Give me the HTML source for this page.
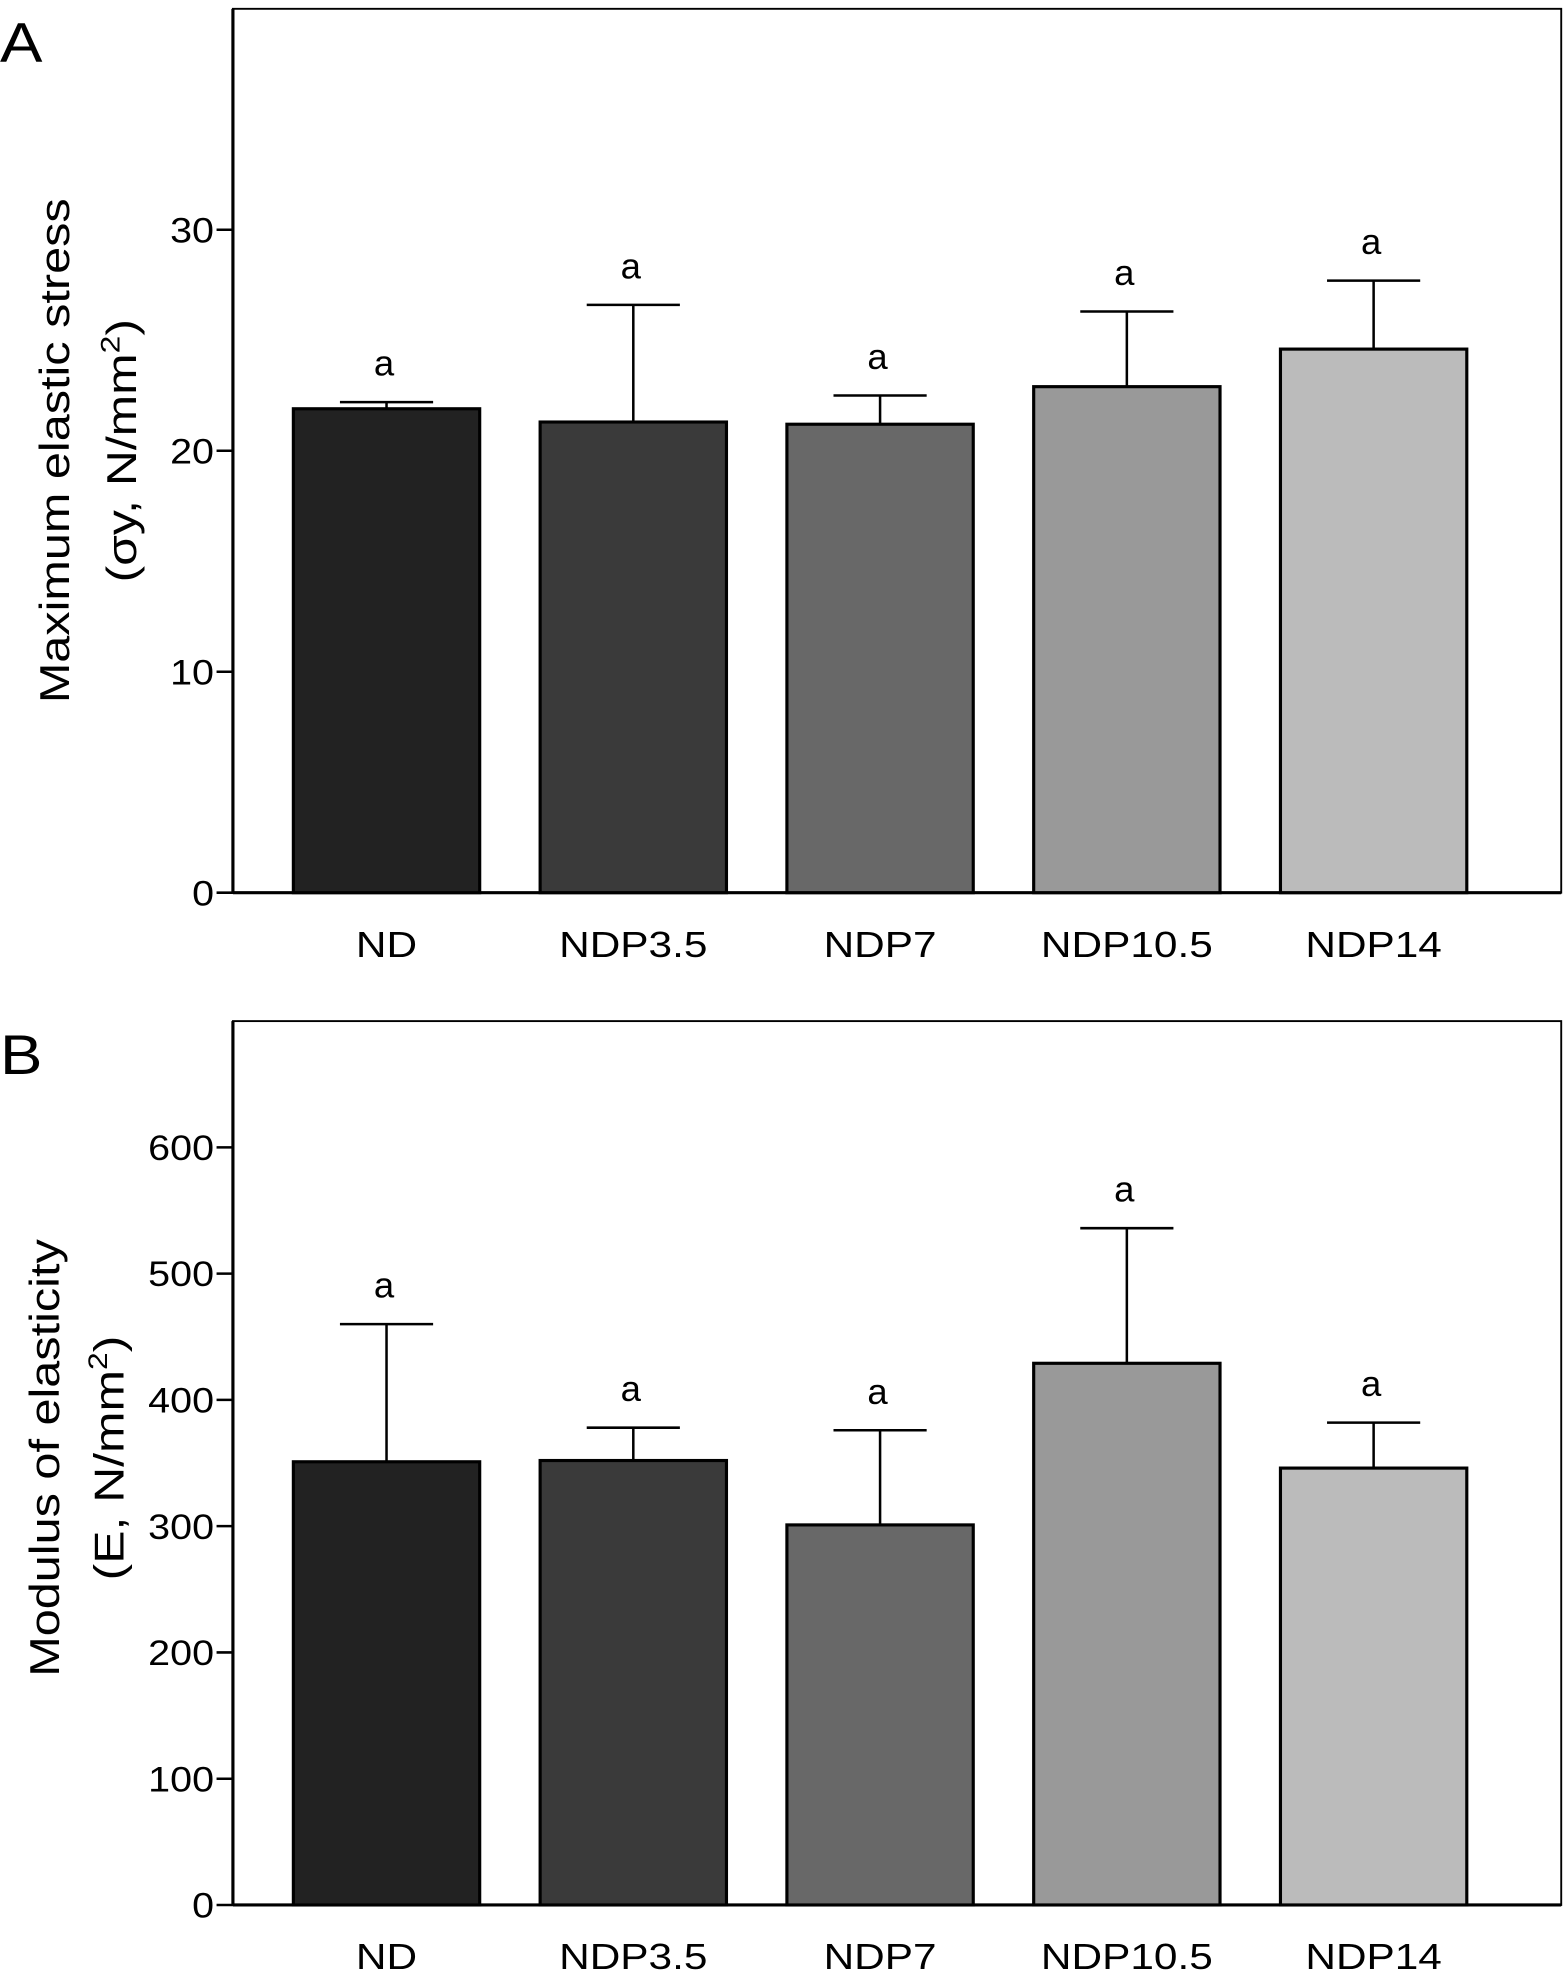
<!DOCTYPE html>
<html><head><meta charset="utf-8"><style>
html,body{margin:0;padding:0;background:#fff;}
svg{display:block;font-family:"Liberation Sans",Arial,sans-serif;}
</style></head><body>
<svg id="fig" width="1565" height="1978" viewBox="0 0 1243 1571" preserveAspectRatio="none" xmlns="http://www.w3.org/2000/svg"></svg>
<script>
const categories = ["ND","NDP3.5","NDP7","NDP10.5","NDP14"];
const stressValues = [21.9, 21.3, 21.2, 22.9, 24.6];
const stressErrors = [0.3, 5.3, 1.3, 3.4, 3.1];
const stressTicks = [0,10,20,30];
const modulusValues = [351, 352, 301, 429, 346];
const modulusErrors = [109, 26, 75, 107, 36];
const modulusTicks = [0,100,200,300,400,500,600];
const sigLetters = ["a","a","a","a","a"];
const fills = ["#222222","#3a3a3a","#686868","#999999","#bbbbbb"];

const svg = document.getElementById('fig');
const NS = "http://www.w3.org/2000/svg";
function mk(tag, attrs, parent){
  const e = document.createElementNS(NS, tag);
  for (const k in attrs) e.setAttribute(k, attrs[k]);
  (parent||svg).appendChild(e);
  return e;
}
function stretch(el, f){
  const w = el.getComputedTextLength();
  if (w > 0){
    el.setAttribute('textLength', (w*f).toFixed(1));
    el.setAttribute('lengthAdjust', 'spacingAndGlyphs');
  }
}

function panel(cfg){
  const g = mk('g', {});
  
  
  const L=185, R=1240, T=cfg.top, B=cfg.top+702;
  const y = v => B - (v/cfg.max)*(B-T);
  const xc = i => 307 + i*196;
  const bw = 148;
  const fr = mk('rect', {x:L,y:T,width:R-L,height:B-T,fill:'none',stroke:'#000','stroke-width':1.5}, g);
  
  
  const ya = mk('line', {x1:L,y1:T,x2:L,y2:B,stroke:'#000','stroke-width':2.5}, g);
  
  
  const xa = mk('line', {x1:L,y1:B,x2:R,y2:B,stroke:'#000','stroke-width':2.5}, g);
  
  
  cfg.ticks.forEach(t=>{
    const tl = mk('line', {x1:L-13,y1:y(t),x2:L,y2:y(t),stroke:'#000','stroke-width':2}, g);
    
    
    const tx = mk('text', {x:L-15,y:y(t)+10,'font-size':28,'text-anchor':'end'}, g);
    tx.textContent = t;
    
    
    stretch(tx, 1.12);
  });
  categories.forEach((c,i)=>{
    const v = cfg.values[i], e = cfg.errors[i];
    const el = mk('line', {x1:xc(i),y1:y(v),x2:xc(i),y2:y(v+e),stroke:'#000','stroke-width':2}, g);
    
    
    const cap = mk('line', {x1:xc(i)-37,y1:y(v+e),x2:xc(i)+37,y2:y(v+e),stroke:'#000','stroke-width':2}, g);
    
    
    const r = mk('rect', {x:xc(i)-bw/2,y:y(v),width:bw,height:B-y(v),fill:fills[i],stroke:'#000','stroke-width':2.5}, g);
    
    
    const s = mk('text', {x:xc(i)-2,y:y(v+e)-21,'font-size':29,'text-anchor':'middle'}, g);
    s.textContent = sigLetters[i];
    
    
    const xl = mk('text', {x:xc(i),y:B+51,'font-size':29,'text-anchor':'middle'}, g);
    xl.textContent = c;
    
    
    stretch(xl, 1.16);
  });
  const pl = mk('text', {x:0,y:cfg.top+42,'font-size':44}, g);
  pl.textContent = cfg.letter;
  
  
  stretch(pl, 1.15);
  const cy = cfg.titleY;
  const t1 = mk('text', {x:0,y:0,'font-size':33,'text-anchor':'middle',transform:`translate(${cfg.t1x},${cy}) rotate(-90)`}, g);
  t1.textContent = cfg.title1;
  
  
  stretch(t1, 1.17);
  const t2 = mk('text', {x:0,y:0,'font-size':33,'text-anchor':'middle',transform:`translate(${cfg.t2x},${cy}) rotate(-90)`}, g);
  t2.innerHTML = cfg.title2;
  
  
  stretch(t2, 1.2);
}

panel({name:'panel-a-stress', top:7, max:40, ticks:stressTicks, values:stressValues, errors:stressErrors,
  letter:'A', title1:'Maximum elastic stress', title2:'(σy, N/mm<tspan dy="-13" font-size="21">2</tspan><tspan dy="13">)</tspan>',
  t1x:55, t2x:108, titleY:358});
panel({name:'panel-b-modulus', top:811, max:700, ticks:modulusTicks, values:modulusValues, errors:modulusErrors,
  letter:'B', title1:'Modulus of elasticity', title2:'(E, N/mm<tspan dy="-13" font-size="21">2</tspan><tspan dy="13">)</tspan>',
  t1x:47, t2x:98, titleY:1158});
</script>
</body></html>
